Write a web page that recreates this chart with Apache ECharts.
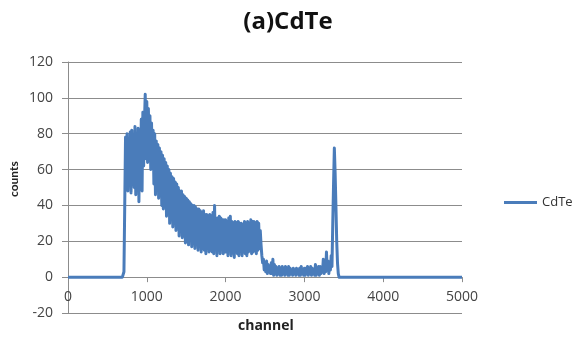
<!DOCTYPE html>
<html>
<head>
<meta charset="utf-8">
<script src="https://cdn.jsdelivr.net/npm/echarts@6/dist/echarts.min.js"></script>
<style>
  html, body { margin: 0; padding: 0; background: #fff; }
  #chart { width: 576px; height: 337px; }
</style>
</head>
<body>
<div id="chart"></div>
<script>
// Spectrum of the CdTe detector: counts per channel.
const titleText = '(a)CdTe';
const seriesName = 'CdTe';
const xTicks = [0, 1000, 2000, 3000, 4000, 5000];
const yTicks = [-20, 0, 20, 40, 60, 80, 100, 120];

// Flat baseline before the spectrum starts
const leadChannels = [0, 690];
const leadCounts = [0, 0];

// Active region, one value every 10 channels from channel 700 to 3450
const activeStart = 700;
const activeStep = 10;
const activeCounts = [
  0, 3, 40, 78, 52, 80, 48, 76, 55, 81,
  47, 82, 58, 78, 50, 84, 46, 80, 60, 83,
  42, 80, 55, 88, 48, 92, 62, 86, 102, 66,
  98, 64, 94, 70, 90, 60, 86, 62, 82, 52,
  80, 46, 76, 52, 74, 44, 72, 48, 70, 40,
  68, 38, 66, 40, 64, 34, 62, 36, 60, 30,
  58, 32, 56, 28, 55, 30, 53, 26, 52, 28,
  50, 23, 48, 26, 48, 22, 46, 24, 45, 19,
  44, 20, 43, 18, 42, 21, 41, 17, 40, 19,
  40, 16, 39, 18, 38, 15, 38, 17, 37, 14,
  36, 16, 37, 15, 35, 13, 35, 16, 34, 14,
  35, 15, 34, 14, 36, 13, 40, 16, 33, 12,
  33, 15, 34, 13, 33, 16, 32, 13, 32, 14,
  32, 14, 31, 12, 33, 15, 34, 12, 31, 14,
  30, 11, 31, 14, 30, 13, 31, 12, 30, 15,
  30, 12, 29, 14, 31, 13, 30, 12, 31, 14,
  30, 15, 32, 13, 31, 14, 31, 15, 30, 13,
  31, 15, 30, 16, 26, 18, 12, 8, 10, 4,
  8, 3, 9, 2, 7, 3, 6, 2, 8, 2,
  10, 1, 7, 2, 6, 1, 5, 2, 6, 1,
  5, 1, 6, 2, 4, 1, 6, 2, 5, 1,
  6, 1, 5, 2, 4, 1, 5, 2, 4, 1,
  5, 2, 4, 1, 5, 1, 6, 2, 4, 1,
  5, 1, 5, 2, 6, 1, 4, 2, 6, 1,
  5, 2, 4, 1, 7, 1, 5, 2, 6, 1,
  6, 2, 5, 3, 10, 2, 8, 3, 14, 4,
  9, 2, 8, 4, 12, 6, 30, 52, 72, 58,
  40, 20, 8, 2, 0, 0
];

// Tail after the peak, with two single-count blips
const tailChannels = [3940, 3950, 3960, 4190, 4200, 4210, 5000];
const tailCounts = [0, 1, 0, 0, 1, 0, 0];

const points = [];
leadChannels.forEach((c, i) => points.push([c, leadCounts[i]]));
activeCounts.forEach((v, i) => points.push([activeStart + i * activeStep, v]));
tailChannels.forEach((c, i) => points.push([c, tailCounts[i]]));

const chart = echarts.init(document.getElementById('chart'), null, { renderer: 'canvas' });
const labelFont = '"Open Sans", "Noto Sans", sans-serif';
const gridColor = '#8c8c8c';
const lineColor = '#4a7cba';

// Plot box
const gridTop = 62, gridBottom = 24, chartHeight = 337;
const gridHeight = chartHeight - gridTop - gridBottom;
const yMin = yTicks[0], yMax = yTicks[yTicks.length - 1];
// Lift the channel axis from the bottom edge up to the zero count level
const xAxisLift = -(0 - yMin) / (yMax - yMin) * gridHeight;

chart.setOption({
  animation: false,
  backgroundColor: '#ffffff',
  title: {
    text: titleText,
    left: 'center',
    top: 5,
    textStyle: { fontFamily: labelFont, fontSize: 24, fontWeight: 'bold', color: '#111' }
  },
  legend: {
    data: [seriesName],
    left: 499,
    top: 191,
    icon: 'rect',
    itemWidth: 33,
    itemHeight: 3,
    textStyle: { fontFamily: labelFont, fontSize: 13, color: '#333' }
  },
  grid: { left: 68, right: 114, top: gridTop, bottom: gridBottom, containLabel: false },
  xAxis: {
    type: 'value',
    min: xTicks[0],
    max: xTicks[xTicks.length - 1],
    interval: 1000,
    offset: xAxisLift,
    axisLine: { show: true, onZero: false, lineStyle: { color: gridColor, width: 1 } },
    axisTick: { show: true, inside: false, length: 5, lineStyle: { color: gridColor } },
    axisLabel: { margin: 13, fontFamily: labelFont, fontSize: 14, color: '#444', formatter: v => String(v) },
    splitLine: { show: false }
  },
  yAxis: {
    type: 'value',
    min: yMin,
    max: yMax,
    interval: 20,
    axisLine: { show: true, onZero: false, lineStyle: { color: gridColor, width: 1 } },
    axisTick: { show: true, length: 6, lineStyle: { color: gridColor } },
    axisLabel: { margin: 15, fontFamily: labelFont, fontSize: 14, color: '#444' },
    splitLine: { show: true, lineStyle: { color: gridColor, width: 1 } }
  },
  graphic: [
    {
      type: 'text', left: 238, top: 319,
      style: { text: 'channel', font: 'bold 14px ' + labelFont, fill: '#222' }
    },
    {
      type: 'text', x: 8, y: 197, rotation: Math.PI / 2,
      style: { text: 'counts', font: 'bold 12px Lato, ' + labelFont, fill: '#222' }
    }
  ],
  series: [{
    name: seriesName,
    type: 'line',
    data: points,
    showSymbol: false,
    symbol: 'none',
    lineStyle: { color: lineColor, width: 3, join: 'round' },
    itemStyle: { color: lineColor }
  }]
});
</script>
</body>
</html>
